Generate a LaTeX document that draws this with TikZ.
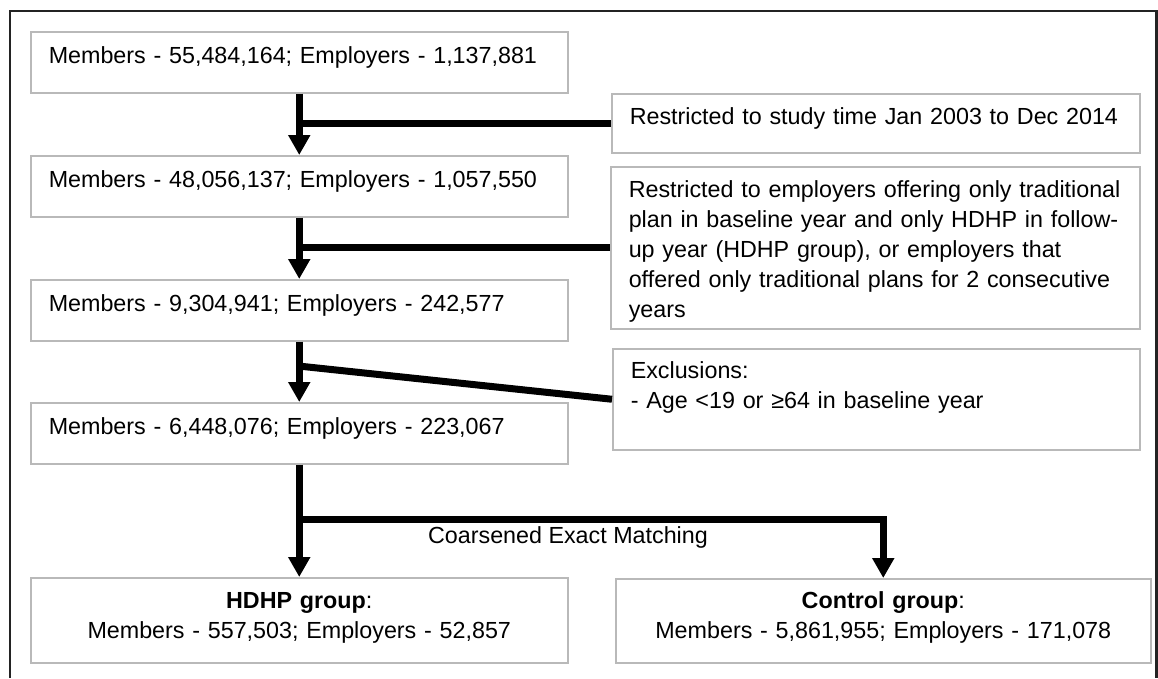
\documentclass[tikz,border=0pt]{standalone}
\usepackage{fontspec}
\setmainfont{Liberation Sans}
\usetikzlibrary{arrows.meta}
\definecolor{boxgray}{RGB}{185,185,185}
\definecolor{framegray}{RGB}{35,35,35}
\tikzset{stage/.style = {draw = boxgray, line width = 1.5pt, anchor = north west, inner xsep = 18pt, inner ysep = 0pt, align = left}}
\tikzset{flow/.style = {line width = 7pt, -{Triangle[width = 21pt, length = 20pt]}}}
\tikzset{link/.style = {line width = 7pt}}

\begin{document}
\begin{tikzpicture}[x = 1pt, y = -1pt, font = \fontsize{23.3}{30}\selectfont]
	\useasboundingbox (0, 0) rectangle (1158, 678);
	\draw[framegray, line width = 2.5pt] (10, 678) -- (10, 11) -- (1156.5, 11) -- (1156.5, 678);

	% member counts
	\node[stage, text width = 501pt, text height = 32pt, text depth = 29pt] (m1) at (30, 31) {Members - 55,484,164; Employers - 1,137,881};
	\node[stage, text width = 501pt, text height = 32pt, text depth = 29pt] (m2) at (30, 155) {Members - 48,056,137; Employers - 1,057,550};
	\node[stage, text width = 501pt, text height = 32pt, text depth = 29pt] (m3) at (30, 279) {Members - 9,304,941; Employers - 242,577};
	\node[stage, text width = 501pt, text height = 32pt, text depth = 29pt] (m4) at (30, 402) {Members - 6,448,076; Employers - 223,067};

	% restrictions
	\node[stage, text width = 492pt, text height = 31pt, text depth = 28pt] (r1) at (611, 93) {Restricted to study time Jan 2003 to Dec 2014};
	\node[stage, text width = 493pt, text height = 31pt, text depth = 131pt] (r2) at (610, 166) {Restricted to employers offering only traditional\\plan in baseline year and only HDHP in follow-\\up year (HDHP group), or employers that\\offered only traditional plans for 2 consecutive\\years};
	\node[stage, text width = 491pt, text height = 30pt, text depth = 71pt] (r3) at (612, 348) {Exclusions:\\- Age <19 or ≥64 in baseline year};

	% groups
	\node[stage, align = center, text width = 501pt, text height = 31pt, text depth = 54pt] (hdhp) at (30, 577) {\textbf{HDHP group}:\\Members - 557,503; Employers - 52,857};
	\node[stage, align = center, text width = 499pt, text height = 30pt, text depth = 54pt] (ctrl) at (615, 578) {\textbf{Control group}:\\Members - 5,861,955; Employers - 171,078};

	\coordinate (j3) at (298.5, 366);
	\coordinate (split) at (298.5, 519);

	\draw[flow] (m1.south) -- (m2.north);
	\draw[flow] (m2.south) -- (m3.north);
	\draw[flow] (m3.south) -- (m4.north);
	\draw[flow] (m4.south) -- (hdhp.north);
	\draw[flow] (split) -| (ctrl.north);

	\draw[link] (r1.west) -- (r1.west -| m1.south);
	\draw[link] (r2.west) -- (r2.west -| m2.south);
	\draw[link] (r3.west) -- (j3);

	\node (cem) at (568, 537) {Coarsened Exact Matching};
\end{tikzpicture}
\end{document}
